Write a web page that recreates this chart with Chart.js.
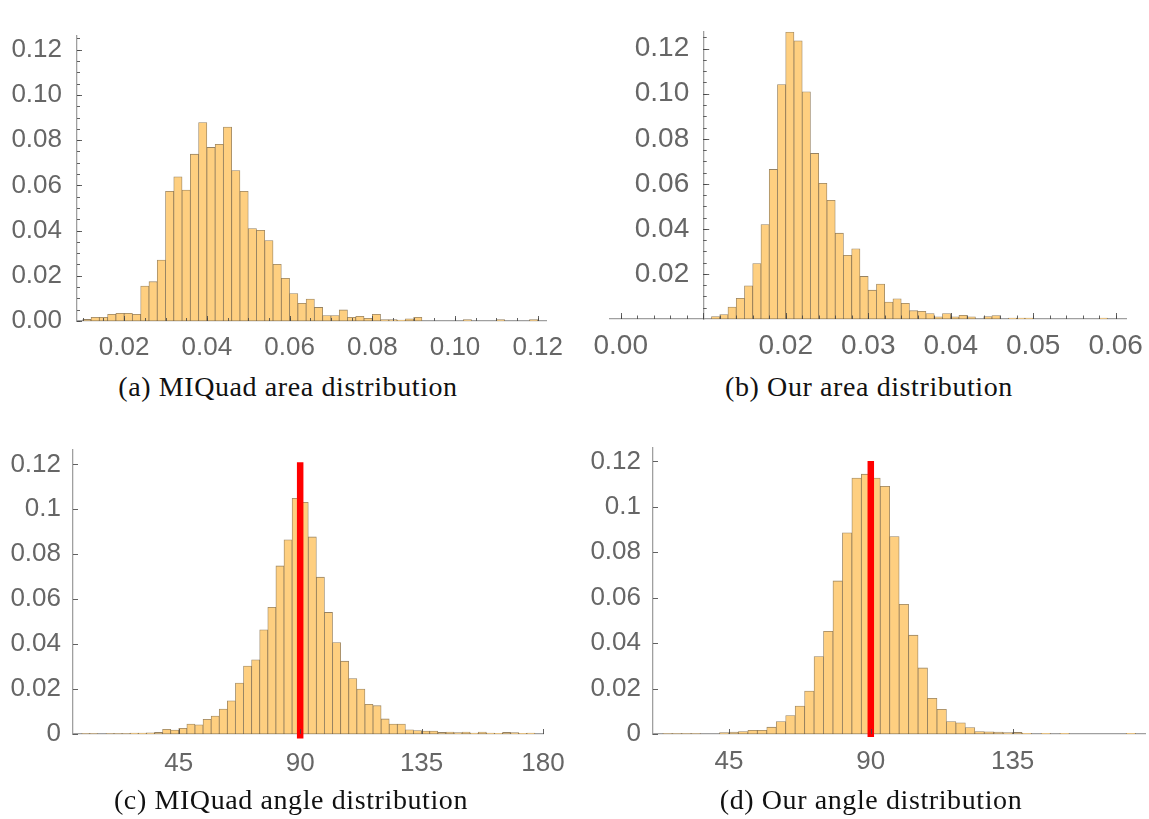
<!DOCTYPE html>
<html>
<head>
<meta charset="utf-8">
<script src="https://cdn.jsdelivr.net/npm/chart.js@4.4.1/dist/chart.umd.min.js"></script>
<style>
  body { margin: 0; background: #fff; width: 1149px; height: 819px; position: relative; overflow: hidden; }
  canvas { position: absolute; }
  .caption {
    position: absolute; width: 500px; height: 32px; line-height: 32px;
    font-family: 'Liberation Serif', serif; font-size: 28px; letter-spacing: 0.6px;
    color: #111; text-align: center; white-space: nowrap;
  }
</style>
</head>
<body>
<canvas id="chartA" width="570" height="370" style="left:0;top:0"></canvas>
<canvas id="chartB" width="574" height="370" style="left:575px;top:0"></canvas>
<canvas id="chartC" width="570" height="399" style="left:0;top:420px"></canvas>
<canvas id="chartD" width="574" height="399" style="left:575px;top:420px"></canvas>
<div class="caption" style="left:38px;top:371px">(a) MIQuad area distribution</div>
<div class="caption" style="left:619px;top:371px">(b) Our area distribution</div>
<div class="caption" style="left:41px;top:784px">(c) MIQuad angle distribution</div>
<div class="caption" style="left:621px;top:784px">(d) Our angle distribution</div>
<script>
// (a) MIQuad area: bins of 0.002 starting at 0.010
const miquadAreaStart = 0.010;
const miquadAreaWidth = 0.002;
const miquadArea = [0.0007, 0.0016, 0.0016, 0.003, 0.0034, 0.0034, 0.003, 0.0155, 0.0174, 0.027,
    0.0574, 0.0638, 0.0579, 0.0738, 0.0878, 0.0768, 0.0782, 0.0858, 0.0666, 0.0574,
    0.0409, 0.0401, 0.0356, 0.0251, 0.0189, 0.0121, 0.0078, 0.0097, 0.006, 0.0024,
    0.0024, 0.0049, 0.0016, 0.0021, 0.0012, 0.003, 0.0006, 0.0006, 0.0004, 0.001,
    0.0016, 0, 0, 0, 0, 0, 0.0006, 0, 0, 0, 0.0006, 0, 0, 0, 0.0006];

// (b) our area: bins of 0.001 starting at 0.011
const ourAreaStart = 0.011;
const ourAreaWidth = 0.001;
const ourArea = [0.0011, 0.002, 0.0053, 0.0092, 0.0147, 0.0246, 0.0419, 0.0664, 0.1041, 0.1274,
    0.1235, 0.1009, 0.0735, 0.0602, 0.0527, 0.0381, 0.0283, 0.0312, 0.0189, 0.0128,
    0.0155, 0.0075, 0.009, 0.007, 0.0037, 0.0034, 0.0024, 0.001, 0.0024, 0.001,
    0.0016, 0.001, 0, 0.0011, 0.0015, 0, 0.0004, 0.0004, 0.0004, 0,
    0, 0, 0, 0, 0, 0, 0, 0.0004];

// (c) MIQuad angle: bins of 3 degrees starting at 9
const miquadAngleStart = 9;
const miquadAngleWidth = 3;
const miquadAngle = [0.0002, 0.0002, 0, 0.0002, 0.0002, 0.0002, 0.0004, 0.0004, 0.0005, 0.0007,
    0.0021, 0.0018, 0.0025, 0.0044, 0.0041, 0.0065, 0.008, 0.0111, 0.0148, 0.0227,
    0.0302, 0.033, 0.0464, 0.0564, 0.0748, 0.0864, 0.1049, 0.1031, 0.0877, 0.0698,
    0.0541, 0.0407, 0.0324, 0.0247, 0.02, 0.0132, 0.0126, 0.0067, 0.0044, 0.0044,
    0.0019, 0.0015, 0.0013, 0.0013, 0.0007, 0.0009, 0.0006, 0.0009, 0.0004, 0.0009,
    0.0004, 0.0003, 0.0007, 0.0006, 0.0003, 0.0004];

// (d) our angle: bins of 3 degrees starting at 24
const ourAngleStart = 24;
const ourAngleWidth = 3;
const ourAngle = [0.0002, 0.0002, 0.0002, 0.0002, 0, 0, 0.0006, 0.0008, 0.0011, 0.0016,
    0.0016, 0.003, 0.0055, 0.0081, 0.0123, 0.0189, 0.0341, 0.0452, 0.0674, 0.0886,
    0.1127, 0.1144, 0.1127, 0.1091, 0.0869, 0.0571, 0.0435, 0.0291, 0.0157, 0.0109,
    0.0055, 0.0049, 0.0028, 0.0011, 0.001, 0.0008, 0.0006, 0.0007, 0.0003, 0,
    0.0003, 0, 0.0003, 0, 0, 0, 0, 0, 0, 0.0003];

// red reference line at the right angle
const rightAngle = 90;
const refLineC = [-0.002, 0.121];
const refLineD = [-0.0013, 0.1202];

// tick labels
const areaTicksA = [0.02, 0.04, 0.06, 0.08, 0.10, 0.12];
const areaTicksB = [0.00, 0.02, 0.03, 0.04, 0.05, 0.06];
const densTicksAB = [0.00, 0.02, 0.04, 0.06, 0.08, 0.10, 0.12];
const densTicksB = [0.02, 0.04, 0.06, 0.08, 0.10, 0.12];
const angleTicksC = [45, 90, 135, 180];
const angleTicksD = [45, 90, 135];
const densTicksCD = [0, 0.02, 0.04, 0.06, 0.08, 0.1, 0.12];
const densLabelsCD = ['0', '0.02', '0.04', '0.06', '0.08', '0.1', '0.12'];

function steps(from, to, step) {
    const out = [];
    for (let k = 0; from + k * step <= to + 1e-9; k++) out.push(+(from + k * step).toFixed(6));
    return out;
}

function binPoints(start, width, values) {
    return values.map((v, i) => ({ x: start + (i + 0.5) * width, y: v > 0 ? v : null }));
}

// Mathematica style inward tick marks
const tickMarks = {
    id: 'tickMarks',
    afterDatasetsDraw(chart, args, o) {
        const { ctx } = chart;
        const xs = chart.scales.x, ys = chart.scales.y;
        const baseY = ys.getPixelForValue(0);
        const axisX = xs.getPixelForValue(o.yAxisAt);
        ctx.save();
        ctx.strokeStyle = 'rgba(70,70,70,0.85)';
        ctx.lineWidth = 1;
        const mark = (x1, y1, x2, y2) => { ctx.beginPath(); ctx.moveTo(x1, y1); ctx.lineTo(x2, y2); ctx.stroke(); };
        (o.xMinor || []).forEach(v => { const p = Math.round(xs.getPixelForValue(v)) + 0.5; mark(p, baseY, p, baseY - o.minorLen); });
        (o.xMajor || []).forEach(v => { const p = Math.round(xs.getPixelForValue(v)) + 0.5; mark(p, baseY, p, baseY - o.majorLen); });
        (o.yMinor || []).forEach(v => { const p = Math.round(ys.getPixelForValue(v)) + 0.5; mark(axisX, p, axisX + o.minorLen, p); });
        (o.yMajor || []).forEach(v => { const p = Math.round(ys.getPixelForValue(v)) + 0.5; mark(axisX, p, axisX + o.majorLen, p); });
        ctx.restore();
    }
};

function makeHist(id, c) {
    const datasets = [];
    if (c.refLine) {
        datasets.push({
            type: 'line',
            data: [{ x: rightAngle, y: c.refLine[0] }, { x: rightAngle, y: c.refLine[1] }],
            borderColor: '#ff0000',
            borderWidth: 6.5,
            borderCapStyle: 'butt',
            pointRadius: 0,
            clip: false,
            order: 0
        });
    }
    datasets.push({
        type: 'bar',
        data: binPoints(c.start, c.width, c.values),
        backgroundColor: 'rgb(254,207,128)',
        borderColor: 'rgba(125,100,60,0.8)',
        borderWidth: 0.8,
        borderSkipped: false,
        barPercentage: 1,
        categoryPercentage: 1,
        order: 1
    });

    const tickFont = { family: 'Liberation Sans', size: c.fontSize };
    const yScale = {
        type: 'linear',
        min: 0,
        max: c.yMax,
        grid: { display: false, drawTicks: false },
        border: { display: true, color: '#a0a0a0', width: 1.3 },
        afterBuildTicks: s => { s.ticks = c.yTicks.map(v => ({ value: v })); },
        ticks: {
            font: tickFont, color: '#666', padding: c.yPad,
            callback: (v, i) => c.yLabels[i]
        }
    };
    if (c.yAxisAt !== undefined) {
        // axis crosses the x axis inside the plot; pad the labels with an en space
        yScale.position = { x: c.yAxisAt };
        yScale.ticks.callback = (v, i) => c.yLabels[i] + '\u2002';
    } else {
        yScale.afterFit = s => { s.width = c.yAxisWidth; };
    }

    return new Chart(document.getElementById(id), {
        type: 'bar',
        data: { datasets },
        plugins: [tickMarks],
        options: {
            responsive: false,
            animation: false,
            events: [],
            layout: { padding: c.padding, autoPadding: false },
            plugins: {
                legend: { display: false },
                tooltip: { enabled: false },
                tickMarks: {
                    yAxisAt: c.yAxisAt !== undefined ? c.yAxisAt : c.xMin,
                    xMajor: c.xMajor, xMinor: c.xMinor, yMajor: c.yMajor, yMinor: c.yMinor,
                    majorLen: c.majorLen, minorLen: c.minorLen
                }
            },
            scales: {
                x: {
                    type: 'linear',
                    offset: false,
                    min: c.xMin,
                    max: c.xMax,
                    // hidden tick length only pushes the labels down
                    grid: { display: false, drawTicks: true, tickLength: c.xPad },
                    border: { display: true, color: '#a0a0a0', width: 1.3 },
                    afterBuildTicks: s => { s.ticks = c.xTicks.map(v => ({ value: v })); },
                    afterFit: s => { s.height = c.xAxisHeight; },
                    ticks: {
                        font: tickFont, color: '#666', padding: 0, maxRotation: 0,
                        callback: (v, i) => c.xLabels[i]
                    }
                },
                y: yScale
            }
        }
    });
}

makeHist('chartA', {
    start: miquadAreaStart, width: miquadAreaWidth, values: miquadArea,
    xMin: 0.0086, xMax: 0.122, yMax: 0.1261,
    xTicks: areaTicksA, xLabels: areaTicksA.map(v => v.toFixed(2)),
    yTicks: densTicksAB, yLabels: densTicksAB.map(v => v.toFixed(2)),
    xMajor: steps(0.02, 0.12, 0.02), xMinor: steps(0.01, 0.12, 0.005),
    yMajor: steps(0, 0.12, 0.02), yMinor: steps(0, 0.125, 0.005),
    majorLen: 5, minorLen: 3,
    fontSize: 26, xPad: 11, yPad: 15,
    yAxisWidth: 77, xAxisHeight: 49,
    padding: { left: 0, top: 36, right: 24, bottom: 0 }
});

makeHist('chartB', {
    start: ourAreaStart, width: ourAreaWidth, values: ourArea,
    xMin: -0.0013, xMax: 0.06125, yMax: 0.1275, yAxisAt: 0.01,
    xTicks: areaTicksB, xLabels: areaTicksB.map(v => v.toFixed(2)),
    yTicks: densTicksB, yLabels: densTicksB.map(v => v.toFixed(2)),
    xMajor: steps(0, 0.06, 0.01), xMinor: steps(0, 0.06, 0.002),
    yMajor: steps(0.02, 0.12, 0.02), yMinor: steps(0.005, 0.125, 0.005),
    majorLen: 6, minorLen: 3.5,
    fontSize: 28, xPad: 10, yPad: 15,
    xAxisHeight: 51,
    padding: { left: 35, top: 3, right: 23, bottom: 0 }
});

makeHist('chartC', {
    start: miquadAngleStart, width: miquadAngleWidth, values: miquadAngle, refLine: refLineC,
    xMin: 5.8, xMax: 180, yMax: 0.1264,
    xTicks: angleTicksC, xLabels: angleTicksC.map(String),
    yTicks: densTicksCD, yLabels: densLabelsCD,
    xMajor: angleTicksC, yMajor: steps(0, 0.12, 0.02),
    majorLen: 5, minorLen: 3,
    fontSize: 26, xPad: 14, yPad: 12,
    yAxisWidth: 73, xAxisHeight: 85,
    padding: { left: 0, top: 30, right: 27, bottom: 0 }
});

makeHist('chartD', {
    start: ourAngleStart, width: ourAngleWidth, values: ourAngle, refLine: refLineD,
    xMin: 20.9, xMax: 177, yMax: 0.1261,
    xTicks: angleTicksD, xLabels: angleTicksD.map(String),
    yTicks: densTicksCD, yLabels: densLabelsCD,
    xMajor: angleTicksD, yMajor: steps(0, 0.12, 0.02),
    majorLen: 5, minorLen: 3,
    fontSize: 26, xPad: 12, yPad: 12,
    yAxisWidth: 78, xAxisHeight: 85,
    padding: { left: 0, top: 17, right: 4, bottom: 0 }
});
</script>
</body>
</html>
